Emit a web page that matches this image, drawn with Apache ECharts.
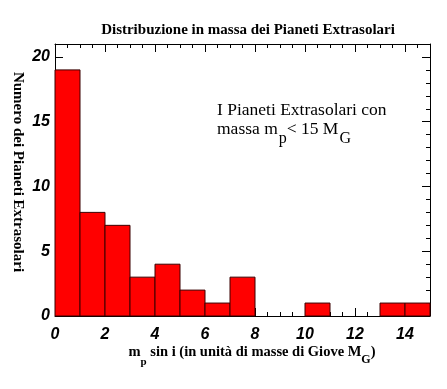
<!DOCTYPE html>
<html><head><meta charset="utf-8">
<script src="https://cdn.jsdelivr.net/npm/echarts@6/dist/echarts.min.js"></script>
<style>html,body{margin:0;padding:0;background:#fff}#c{width:447px;height:389px}</style>
</head><body><div id="c"></div>
<script>
// Histogram bins (mass in Jupiter masses) and counts
const binStart = [0,1,2,3,4,5,6,7,8,9,10,11,12,13,14];
const binEnd   = [1,2,3,4,5,6,7,8,9,10,11,12,13,14,15];
const counts   = [19,8,7,3,4,2,1,3,0,0,1,0,0,1,1];
const xTickLabels = ['0','2','4','6','8','10','12','14'];
const yTickLabels = ['0','5','10','15','20'];

const chart = echarts.init(document.getElementById('c'), null, {renderer:'canvas'});
const data = binStart.map((s,i)=>[s, binEnd[i], counts[i]]);

const serif = '"Liberation Serif","Times New Roman",serif';
const sans = '"Liberation Sans",Arial,sans-serif';
const labelStyle = {color:'#000', fontFamily:sans, fontWeight:'bold', fontStyle:'italic', fontSize:16};

function axisCommon(pos, isX, showLabels){
  return {
    type:'value', position:pos, min:0, max: isX?15:21, interval: isX?2:5,
    axisLine:{show:true, onZero:false, lineStyle:{color:'#000', width:1}},
    axisTick:{show:true, inside:true, length:8, lineStyle:{color:'#000', width:1}},
    minorTick:{show:true, splitNumber: isX?4:5, length:4, lineStyle:{color:'#000', width:1}},
    splitLine:{show:false}, minorSplitLine:{show:false},
    axisLabel: showLabels ? Object.assign({show:true, margin: isX?11:5, showMaxLabel:false,
      formatter: v => (isX ? xTickLabels : yTickLabels).indexOf(String(v)) >= 0 ? String(v) : ''}, labelStyle) : {show:false}
  };
}

chart.setOption({
  animation:false,
  backgroundColor:'#fff',
  grid:{left:55, right:17, top:44, bottom:73},
  xAxis:[axisCommon('bottom', true, true), axisCommon('top', true, false)],
  yAxis:[axisCommon('left', false, true), axisCommon('right', false, false)],
  series:[{
    type:'custom', xAxisIndex:0, yAxisIndex:0,
    encode:{x:[0,1], y:2},
    data:data,
    renderItem:function(params, api){
      const v = api.value(2);
      if (!v) return null;
      const p0 = api.coord([api.value(0), v]);
      const p1 = api.coord([api.value(1), 0]);
      return {type:'rect', shape:{x:p0[0], y:p0[1], width:p1[0]-p0[0], height:p1[1]-p0[1]},
        style:{fill:'#ff0000', stroke:'#3a0000', lineWidth:1}};
    }
  }],
  graphic:[
    {type:'text', position:[248,30], style:{text:'Distribuzione in massa dei Pianeti Extrasolari',
      font:'bold 15px '+serif, fill:'#000', textAlign:'center', textVerticalAlign:'middle'}},
    {type:'text', position:[18,172], rotation:-Math.PI/2, style:{text:'Numero dei Pianeti Extrasolari',
      font:'bold 15px '+serif, fill:'#000', textAlign:'center', textVerticalAlign:'middle'}},
    {type:'text', position:[252,345], style:{
      text:'{a|m}{s|p}{a| sin i (in unità di masse di Giove M}{s2|G}{a|)}',
      textAlign:'center', textVerticalAlign:'top',
      rich:{
        a:{font:'bold 14.5px '+serif, fill:'#000', lineHeight:17, verticalAlign:'top'},
        s:{font:'bold 11px '+serif, fill:'#000', lineHeight:13, padding:[12,0,0,0], verticalAlign:'top'},
        s2:{font:'bold 12px '+serif, fill:'#000', lineHeight:13, padding:[9,0,0,0], verticalAlign:'top'}
      }}},
    {type:'text', position:[217,110], style:{text:'I Pianeti Extrasolari con',
      font:'17.5px '+serif, fill:'#000', textAlign:'left', textVerticalAlign:'middle'}},
    {type:'text', position:[217,120], style:{
      text:'{a|massa m}{s|p}{a|< 15 M}{s|G}',
      textAlign:'left', textVerticalAlign:'top',
      rich:{
        a:{font:'17.5px '+serif, fill:'#000', lineHeight:20, verticalAlign:'top'},
        s:{font:'16px '+serif, fill:'#000', lineHeight:18, padding:[11,0,0,1], verticalAlign:'top'}
      }}}
  ]
});
</script></body></html>
